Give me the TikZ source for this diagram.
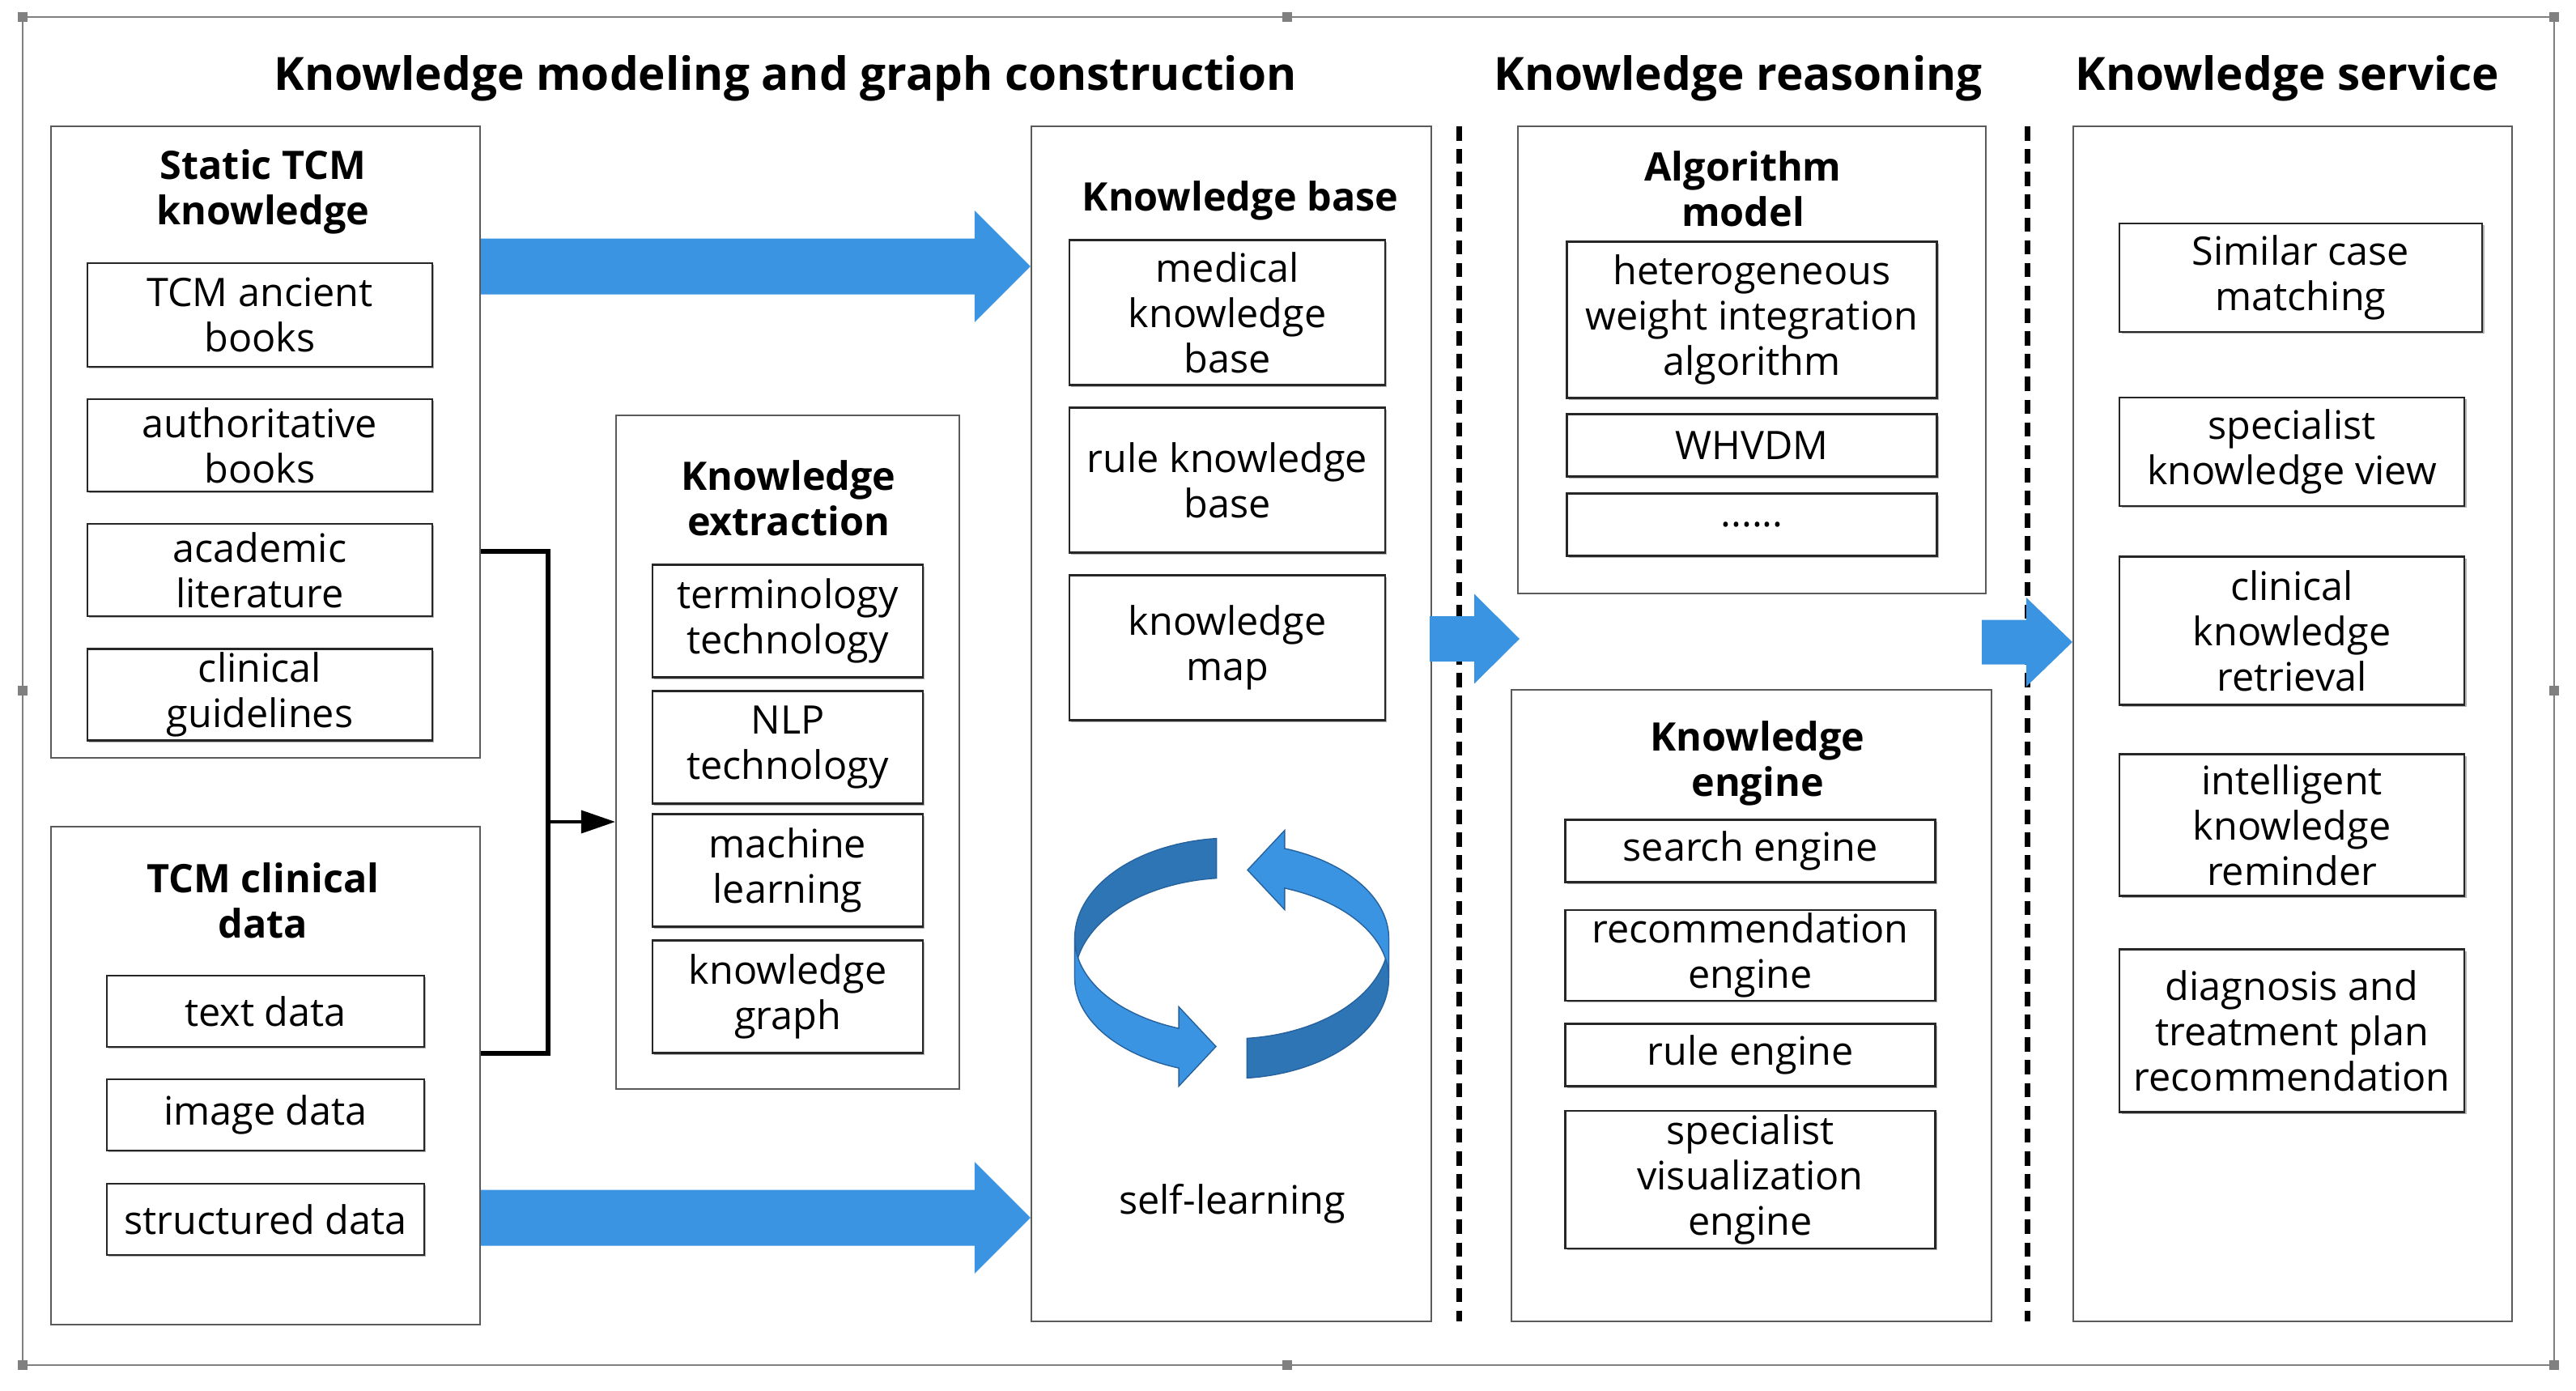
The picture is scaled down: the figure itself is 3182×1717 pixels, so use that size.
\documentclass[tikz,border=0pt]{standalone}
\usepackage{fontspec}
\setmainfont{Open Sans}
\usetikzlibrary{positioning,arrows.meta,shadows,calc}
\definecolor{myblue}{RGB}{58,148,226}
\definecolor{mydarkblue}{RGB}{46,117,182}
\definecolor{myedge}{RGB}{38,98,158}
\definecolor{mygray}{RGB}{128,128,128}
\definecolor{myframe}{RGB}{90,90,90}
\newcommand\colframe[5]{\node[colbox,minimum width=#4*0.01cm,minimum height=#5*0.01cm] (#1) at (#2,#3) {};}
\newcommand\blockarrow[5]{%
  \fill[myblue] ($(#1)+(0,-#3)$) -- ($(#2)+(-#5,-#3)$) -- ($(#2)+(-#5,-#4)$) -- (#2)
    -- ($(#2)+(-#5,#4)$) -- ($(#2)+(-#5,#3)$) -- ($(#1)+(0,#3)$) -- cycle;}
\tikzset{
  colbox/.style={draw=myframe,line width=0.6pt,fill=white,inner sep=0pt},
  itembox/.style={draw=black!85,line width=0.6pt,fill=white,align=center,inner sep=0pt,
    font=\fontsize{13.8}{15.9}\selectfont,
    drop shadow={shadow xshift=0.7pt,shadow yshift=-0.7pt,opacity=0.3,fill=black}},
  coltitle/.style={font=\fontsize{13.8}{15.9}\selectfont\bfseries,align=center},
  bigtitle/.style={font=\fontsize{16.1}{19}\selectfont\bfseries},
  cyclearrow/.pic={
    \filldraw[fill=mydarkblue,draw=myedge,line width=0.4pt]
      plot[domain=95.6:180,samples=40] ({194*cos(\x)},{-24.5-124*sin(\x)})
      -- plot[domain=180:95.6,samples=40] ({194*cos(\x)},{24.5-124*sin(\x)}) -- cycle;
    \filldraw[fill=myblue,draw=myedge,line width=0.4pt]
      plot[domain=180:250.3,samples=40] ({194*cos(\x)},{-24.5-118*sin(\x)})
      -- (-65.4,60) -- (-19.5,109) -- (-65.4,158)
      -- plot[domain=250.3:180,samples=40] ({194*cos(\x)},{24.5-118*sin(\x)}) -- cycle;
  }
}
\begin{document}
\begin{tikzpicture}[x=0.01cm,y=-0.01cm]
  \useasboundingbox (0,0) rectangle (3182,1717);
  % outer border with its handles
  \draw[mygray,line width=0.8pt] (28,21) rectangle (3155,1686);
  \foreach \hx/\hy in {28/21,1590/21,3155/21,28/853,3155/853,28/1686,1590/1686,3155/1686}
    \fill[mygray] (\hx-6,\hy-6) rectangle (\hx+6,\hy+6);
  % headings
  \node[bigtitle] (t1) at (970,97) {Knowledge modeling and graph construction};
  \node[bigtitle] (t2) at (2147,97) {Knowledge reasoning};
  \node[bigtitle] (t3) at (2825,97) {Knowledge service};
  % column frames
  \colframe{static}{328}{546}{530}{780}
  \colframe{clin}{328}{1328.5}{530}{615}
  \colframe{ext}{973}{929}{424}{832}
  \colframe{kb}{1521}{894}{494}{1476}
  \colframe{alg}{2164}{444.5}{578}{577}
  \colframe{eng}{2163.5}{1242}{593}{780}
  \colframe{serv}{2832}{894}{542}{1476}
  \node[coltitle] (statictitle) at (325,237) {Static TCM\\knowledge};
  \node[coltitle] (clintitle) at (325,1112) {TCM clinical\\data};
  \node[coltitle] (exttitle) at (974,615) {Knowledge\\extraction};
  \node[coltitle] (kbtitle) at (1532,248) {Knowledge base};
  \node[coltitle] (algtitle) at (2153,233) {Algorithm\\model};
  \node[coltitle] (engtitle) at (2171,943) {Knowledge\\engine};
  % static knowledge
  \foreach \nm/\yc/\h/\txt in {anc/389/128/{TCM ancient\\books},auth/550/114/{authoritative\\books},
      acad/704/114/{academic\\literature},guide/858/113/{clinical\\guidelines}}
    \node[itembox,minimum width=426*0.01cm,minimum height=\h*0.01cm] (\nm) at (321,\yc) {\txt};
  % clinical data
  \foreach \nm/\yc/\txt in {txt/1249/{text data},img/1377/{image data},strd/1506/{structured data}}
    \node[itembox,minimum width=392*0.01cm,minimum height=88*0.01cm] (\nm) at (328,\yc) {\txt};
  % extraction
  \foreach \nm/\yc/\txt in {term/767/{terminology\\technology},nlp/923/{NLP\\technology},
      ml/1075/{machine\\learning},kg/1231/{knowledge\\graph}}
    \node[itembox,minimum width=334*0.01cm,minimum height=139*0.01cm] (\nm) at (973,\yc) {\txt};
  % knowledge base
  \foreach \nm/\yc/\txt in {med/386/{medical\\knowledge\\base},rule/593/{rule knowledge\\base},
      kmap/800/{knowledge\\map}}
    \node[itembox,minimum width=390*0.01cm,minimum height=179*0.01cm] (\nm) at (1516,\yc) {\txt};
  \pic at (1521.5,1183.5) {cyclearrow};
  \pic[rotate=180] at (1521.5,1183.5) {cyclearrow};
  \node[font=\fontsize{13.8}{15.9}\selectfont] (selfl) at (1522,1487) {self-learning};
  % algorithm model
  \foreach \nm/\yc/\h/\txt in {hwi/395/193/{heterogeneous\\weight integration\\algorithm},
      whvdm/550/77/{WHVDM},more/648/77/{......}}
    \node[itembox,minimum width=457*0.01cm,minimum height=\h*0.01cm] (\nm) at (2164,\yc) {\txt};
  % knowledge engine
  \foreach \nm/\yc/\h/\txt in {search/1051/77/{search engine},recom/1180/112/{recommendation\\engine},
      rulee/1303/77/{rule engine},vis/1457/170/{specialist\\visualization\\engine}}
    \node[itembox,minimum width=457*0.01cm,minimum height=\h*0.01cm] (\nm) at (2162,\yc) {\txt};
  % knowledge service
  \node[itembox,minimum width=448*0.01cm,minimum height=134*0.01cm] (simc) at (2842,343) {Similar case\\matching};
  \foreach \nm/\yc/\h/\txt in {spv/558/134/{specialist\\knowledge view},ret/779/183/{clinical\\knowledge\\retrieval},
      remd/1019/175/{intelligent\\knowledge\\reminder},diag/1273/201/{diagnosis and\\treatment plan\\recommendation}}
    \node[itembox,minimum width=426*0.01cm,minimum height=\h*0.01cm] (\nm) at (2831,\yc) {\txt};
  % separators
  \draw[line width=2pt,dash pattern=on 5pt off 3pt] (1802,156) -- (1802,1632);
  \draw[line width=2pt,dash pattern=on 5pt off 3pt] (2504,156) -- (2504,1632);
  % bracket into extraction
  \coordinate (bktop) at (static.east |- 0,681);
  \coordinate (bkbot) at (clin.east |- 0,1301);
  \coordinate (bkx) at (677,1015);
  \draw[line width=1.5pt] (bktop) -| (bkx) |- (bkbot);
  \draw[line width=1pt,-{Triangle[length=12pt,width=8pt]}] (bkx) -- (ext.west |- bkx);
  % block arrows
  \coordinate (ua) at (static.east |- 0,329);
  \coordinate (ub) at (kb.west |- 0,329);
  \coordinate (la) at (clin.east |- 0,1504);
  \coordinate (lb) at (kb.west |- 0,1504);
  \coordinate (ma) at (1766,789);
  \coordinate (mb) at (1877,789);
  \coordinate (na) at (2448,793);
  \coordinate (nb) at (serv.west |- 0,793);
  \blockarrow{ua}{ub}{34.5}{69}{69}
  \blockarrow{la}{lb}{34.5}{69}{69}
  \blockarrow{ma}{mb}{28}{55.5}{56}
  \blockarrow{na}{nb}{27.5}{55}{57}
\end{tikzpicture}
\end{document}
